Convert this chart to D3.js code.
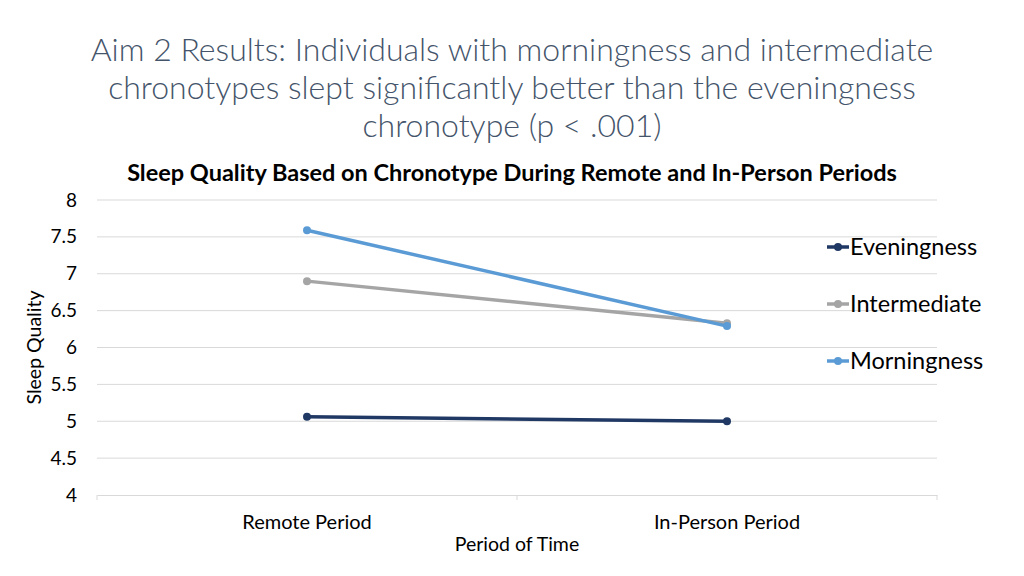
<!DOCTYPE html>
<html>
<head>
<meta charset="utf-8">
<script src="https://cdn.jsdelivr.net/npm/d3@7"></script>
<style>
  body { margin: 0; background: #fff; }
  text { font-family: Lato, "Open Sans", sans-serif; }
</style>
</head>
<body>
<div id="chart"></div>
<script>
// data
var periods = ["Remote Period", "In-Person Period"];
var seriesNames = ["Eveningness", "Intermediate", "Morningness"];
var eveningness = [5.06, 5.00];
var intermediate = [6.90, 6.33];
var morningness = [7.59, 6.29];
var yTicks = [4, 4.5, 5, 5.5, 6, 6.5, 7, 7.5, 8];
var colors = ["#203864", "#a5a5a5", "#5b9bd5"];

var series = [eveningness, intermediate, morningness].map(function(v, i) {
  return { name: seriesNames[i], color: colors[i],
           values: v.map(function(d, j) { return { period: periods[j], value: d }; }) };
});

var W = 1024, H = 576;
var margin = {top: 200, right: 87, bottom: 81, left: 97},
    width = W - margin.left - margin.right,
    height = H - margin.top - margin.bottom;

var svg = d3.select("#chart").append("svg")
  .attr("width", W).attr("height", H);

// slide title
var title = svg.append("text")
  .attr("text-anchor", "middle")
  .style("font-size", "32px")
  .style("font-weight", 300)
  .style("fill", "#44546a");
[["Aim 2 Results: Individuals with morningness and intermediate", 61],
 ["chronotypes slept significantly better than the eveningness", 99],
 ["chronotype (p < .001)", 137]].forEach(function(l) {
  title.append("tspan").attr("x", 512).attr("y", l[1]).text(l[0]);
});

// chart title
svg.append("text")
  .attr("x", 512).attr("y", 181)
  .attr("text-anchor", "middle")
  .style("font-size", "23.5px")
  .style("font-weight", 700)
  .style("fill", "#000")
  .text("Sleep Quality Based on Chronotype During Remote and In-Person Periods");

var g = svg.append("g")
  .attr("transform", "translate(" + margin.left + "," + margin.top + ")");

var x = d3.scaleBand().domain(periods).range([0, width]);
var y = d3.scaleLinear().domain([4, 8]).range([height, 0]);

// gridlines
g.append("g")
  .selectAll("line")
  .data(yTicks.slice(1))
  .enter().append("line")
    .attr("x1", 0).attr("x2", width)
    .attr("y1", function(d) { return y(d); })
    .attr("y2", function(d) { return y(d); })
    .attr("stroke", "#d9d9d9");

// y axis labels
var yAxis = g.append("g")
  .call(d3.axisLeft(y).tickValues(yTicks).tickSize(0).tickPadding(20)
    .tickFormat(function(d) { return d; }));
yAxis.select(".domain").remove();
yAxis.selectAll("text")
  .style("font-size", "19px")
  .style("font-family", "Lato, sans-serif")
  .attr("fill", "#000");

// x axis
var xAxis = g.append("g")
  .attr("transform", "translate(0," + height + ")")
  .call(d3.axisBottom(x).tickSize(0).tickPadding(20));
xAxis.select(".domain").attr("stroke", "#d9d9d9");
xAxis.selectAll("text")
  .style("font-size", "20px")
  .style("font-family", "Lato, sans-serif")
  .attr("fill", "#000");
xAxis.selectAll(".sep")
  .data([0, width / 2, width])
  .enter().append("line")
    .attr("x1", function(d) { return d; }).attr("x2", function(d) { return d; })
    .attr("y1", 0).attr("y2", 5)
    .attr("stroke", "#d9d9d9");

// axis titles
svg.append("text")
  .attr("transform", "translate(41," + (margin.top + height / 2) + ") rotate(-90)")
  .attr("text-anchor", "middle")
  .style("font-size", "19.5px")
  .text("Sleep Quality");

svg.append("text")
  .attr("x", margin.left + width / 2).attr("y", 551)
  .attr("text-anchor", "middle")
  .style("font-size", "19.5px")
  .text("Period of Time");

// lines
var line = d3.line()
  .x(function(d) { return x(d.period) + x.bandwidth() / 2; })
  .y(function(d) { return y(d.value); });

var s = g.selectAll(".series")
  .data(series)
  .enter().append("g");

s.append("path")
  .attr("d", function(d) { return line(d.values); })
  .attr("fill", "none")
  .attr("stroke", function(d) { return d.color; })
  .attr("stroke-width", 3.5);

s.selectAll("circle")
  .data(function(d) { return d.values.map(function(v) { return {v: v, c: d.color}; }); })
  .enter().append("circle")
    .attr("cx", function(d) { return x(d.v.period) + x.bandwidth() / 2; })
    .attr("cy", function(d) { return y(d.v.value); })
    .attr("r", 4)
    .attr("fill", function(d) { return d.c; });

// legend
var legend = svg.selectAll(".legend")
  .data(series)
  .enter().append("g")
    .attr("transform", function(d, i) { return "translate(827," + (247 + i * 57) + ")"; });

legend.append("line")
  .attr("x1", 0).attr("x2", 22)
  .attr("stroke", function(d) { return d.color; })
  .attr("stroke-width", 3.5);
legend.append("circle")
  .attr("cx", 11).attr("r", 4)
  .attr("fill", function(d) { return d.color; });
legend.append("text")
  .attr("x", 23).attr("dy", "0.35em")
  .style("font-size", "23.5px")
  .text(function(d) { return d.name; });
</script>
</body>
</html>
